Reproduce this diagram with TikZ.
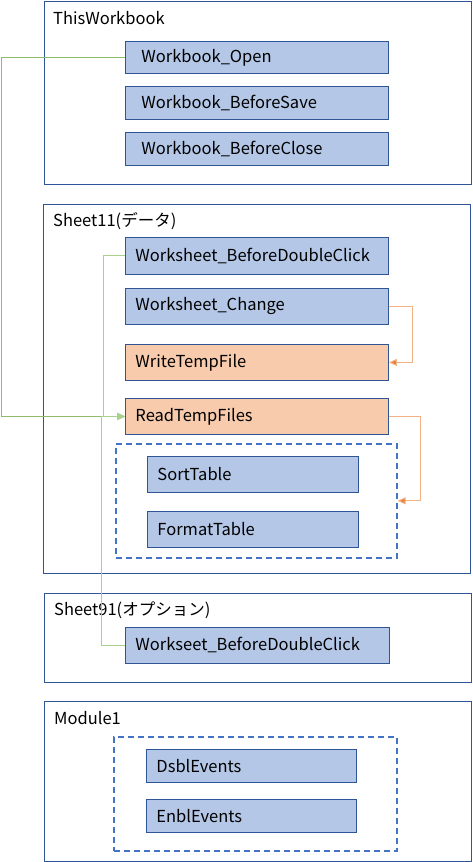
\documentclass[tikz,border=0pt]{standalone}
\usepackage{fontspec}
\setmainfont{Noto Sans CJK JP}
\usepackage{xcolor}
\usepackage{tikz}
\usetikzlibrary{arrows.meta,positioning}

\definecolor{frameblue}{HTML}{2F5597}
\definecolor{procblue}{HTML}{B4C7E7}
\definecolor{tempfill}{HTML}{F8CBAD}
\definecolor{groupblue}{HTML}{4472C4}
\definecolor{callgreen}{HTML}{8DBD6A}
\definecolor{lightgreen}{HTML}{A9D18E}
\definecolor{callorange}{HTML}{ED7D31}
\definecolor{lightorange}{HTML}{F4B183}
\newcommand{\boxfont}{\fontsize{16.5}{19}\selectfont}

\begin{document}
\begin{tikzpicture}[x=1pt,y=-1pt,
    module/.style={draw=frameblue, line width=1pt, anchor=north west, inner sep=0pt},
    modtitle/.style={anchor=west, inner sep=0pt, font=\boxfont},
    proc/.style={draw=frameblue, fill=procblue, line width=0.9pt, anchor=north west,
      inner xsep=10pt, inner ysep=0pt, align=left, font=\boxfont},
    tempproc/.style={proc, fill=tempfill},
    group/.style={draw=groupblue, line width=1.6pt, dash pattern=on 6pt off 4pt,
      anchor=north west, inner sep=0pt},
    greencall/.style={draw=callgreen, line width=1pt, -{Triangle[length=8pt,width=7pt]}},
    greencall2/.style={draw=lightgreen, line width=1pt, -{Triangle[length=8pt,width=7pt]}},
    orangecall/.style={draw=lightorange, line width=1pt, -{Triangle[length=8pt,width=7pt,fill=callorange]}}]
  \useasboundingbox (0,0) rectangle (472,862);

  % ThisWorkbook
  \node[module, minimum width=427pt, minimum height=183pt] (wb) at (44,1) {};
  \node[modtitle] (wbtitle) at (53,18) {ThisWorkbook};
  \node[proc, inner xsep=16pt, text width=231pt, minimum height=32pt] (open) at (125,41) {Workbook\_Open};
  \node[proc, inner xsep=16pt, text width=231pt, minimum height=33pt] (save) at (125,86) {Workbook\_BeforeSave};
  \node[proc, inner xsep=16pt, text width=231pt, minimum height=33pt] (close) at (125,132) {Workbook\_BeforeClose};

  % Sheet11
  \node[module, minimum width=427pt, minimum height=369pt] (data) at (43,204) {};
  \node[modtitle] (datatitle) at (53,221) {Sheet11(データ)};
  \node[proc, text width=243pt, minimum height=37pt] (dblclick) at (125,237) {Worksheet\_BeforeDoubleClick};
  \node[proc, text width=243pt, minimum height=36pt] (change) at (125,288) {Worksheet\_Change};
  \node[tempproc, text width=243pt, minimum height=36pt] (write) at (125,344) {WriteTempFile};
  \node[tempproc, text width=243pt, minimum height=36pt] (read) at (125,398) {ReadTempFiles};
  \node[group, minimum width=281pt, minimum height=114pt] (tables) at (115,443) {};
  \node[proc, text width=191pt, minimum height=36pt] (sort) at (147,456) {SortTable};
  \node[proc, text width=191pt, minimum height=36pt] (format) at (147,511) {FormatTable};

  % Sheet91
  \node[module, minimum width=427pt, minimum height=89pt] (option) at (44,593) {};
  \node[modtitle] (optiontitle) at (54,610) {Sheet91(オプション)};
  \node[proc, text width=244pt, minimum height=36pt] (dblclick2) at (125,627) {Workseet\_BeforeDoubleClick};

  % Module1
  \node[module, minimum width=427pt, minimum height=160pt] (mod) at (44,701) {};
  \node[modtitle] (modtitle) at (54,718) {Module1};
  \node[group, minimum width=283pt, minimum height=114pt] (events) at (113,736) {};
  \node[proc, text width=190pt, minimum height=33pt] (dsbl) at (146,749) {DsblEvents};
  \node[proc, text width=190pt, minimum height=33pt] (enbl) at (146,799) {EnblEvents};

  % calls
  \draw[greencall] (open.west) -- ++(-124,0) |- (read.west);
  \draw[greencall2] (dblclick.west) -- ++(-22,0) |- (read.west);
  \draw[greencall2] (dblclick2.west) -- ++(-24,0) |- (read.west);
  \draw[orangecall] (change.east) -- ++(24,0) |- (write.east);
  \draw[orangecall] (read.east) -- ++(32,0) |- (tables.east);
\end{tikzpicture}
\end{document}
